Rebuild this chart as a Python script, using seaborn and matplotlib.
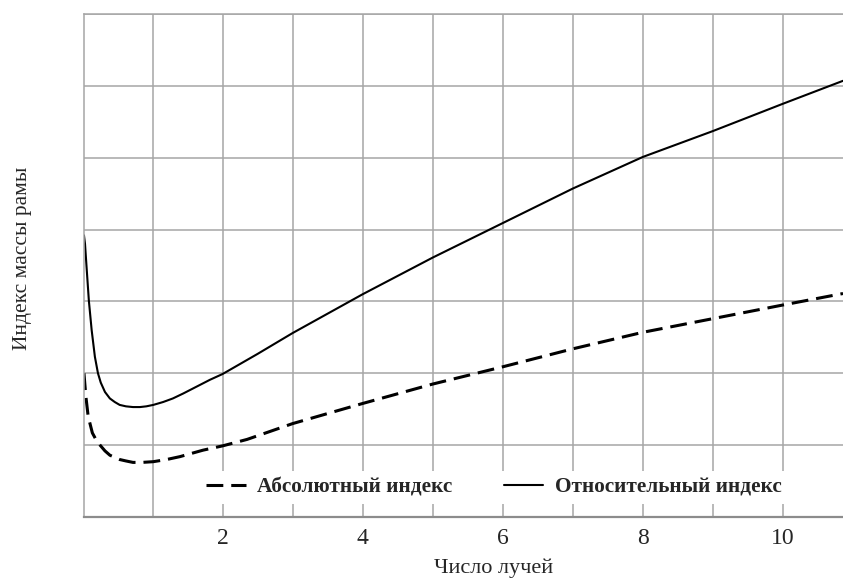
import pandas as pd
import matplotlib
matplotlib.use('Agg')
import matplotlib.pyplot as plt
import seaborn as sns

sns.set_style('whitegrid')
plt.rcParams['font.family'] = ['Liberation Serif', 'DejaVu Serif']

# --- data ---
x_rel = [0.02, 0.035, 0.057, 0.09, 0.13, 0.176, 0.22, 0.26, 0.32, 0.39, 0.46, 0.53, 0.62,
         0.72, 0.82, 0.91, 1.01, 1.15, 1.29, 1.44, 1.58, 1.82, 2.0, 2.5, 3, 4, 5, 6, 7, 8,
         9, 10, 10.86]
y_rel = [3.92, 3.80, 3.48, 3.01, 2.60, 2.23, 2.00, 1.87, 1.74, 1.65, 1.60, 1.56, 1.54,
         1.53, 1.53, 1.54, 1.56, 1.60, 1.65, 1.72, 1.79, 1.91, 1.99, 2.27, 2.56, 3.10, 3.61,
         4.09, 4.57, 5.01, 5.37, 5.75, 6.07]

x_abs = [0.02, 0.03, 0.047, 0.08, 0.14, 0.19, 0.25, 0.32, 0.39, 0.53, 0.62, 0.72, 0.85,
         1.01, 1.2, 1.39, 1.72, 2.0, 2.35, 3, 4, 5, 6, 7, 8, 9, 10, 10.86]
y_abs = [2.00, 1.88, 1.68, 1.40, 1.17, 1.08, 1.00, 0.92, 0.86, 0.80, 0.78, 0.76, 0.76,
         0.77, 0.80, 0.84, 0.93, 0.99, 1.08, 1.30, 1.58, 1.85, 2.09, 2.34, 2.57, 2.76,
         2.95, 3.11]

label_abs = 'Абсолютный индекс'
label_rel = 'Относительный индекс'
x_ticks = [2, 4, 6, 8, 10]

df_abs = pd.DataFrame({'x': x_abs, 'y': y_abs})
df_rel = pd.DataFrame({'x': x_rel, 'y': y_rel})

fig = plt.figure(figsize=(8.43, 5.8), dpi=100)
ax = fig.add_axes([0.0996, 0.1086, 0.9004, 0.8673])

sns.lineplot(data=df_abs, x='x', y='y', ax=ax, color='black', linewidth=2.2,
             linestyle=(0, (5.5, 2.6)), label=label_abs, sort=False)
sns.lineplot(data=df_rel, x='x', y='y', ax=ax, color='black', linewidth=1.5,
             label=label_rel, sort=False)

ax.set_xlim(0.02, 10.86)
ax.set_ylim(0, 7)
ax.set_xticks(x_ticks)
ax.set_xticks(range(1, 11, 2), minor=True)
ax.set_yticks(range(0, 8))
ax.set_yticklabels([])
ax.grid(True, which='both', color='#a6a6a6', linewidth=1.1)
ax.tick_params(axis='both', which='both', length=0)
ax.tick_params(axis='x', labelsize=17, pad=8)

for side in ['top', 'left']:
    ax.spines[side].set_color('#a6a6a6')
    ax.spines[side].set_linewidth(1.1)
ax.spines['right'].set_visible(False)
ax.spines['bottom'].set_color('#8c8c8c')
ax.spines['bottom'].set_linewidth(1.6)

ax.set_xlabel('')
ax.set_ylabel('')
# the reference crops this label at the bottom edge; kept just inside here
fig.text(0.585, 0.003, 'Число лучей', fontsize=16, ha='center', va='bottom')
fig.text(0.027, 0.555, 'Индекс массы рамы', fontsize=15.5, rotation=90,
         ha='center', va='center')

leg = ax.legend(loc='center', bbox_to_anchor=(0.54, 0.058), ncol=2,
                frameon=True, framealpha=1, edgecolor='white', fancybox=False,
                prop={'weight': 'bold', 'size': 15.3}, handlelength=1.85,
                handletextpad=0.55, columnspacing=2.4, borderpad=0.3)
leg.get_frame().set_linewidth(0)

plt.savefig('out.png', dpi=100)
